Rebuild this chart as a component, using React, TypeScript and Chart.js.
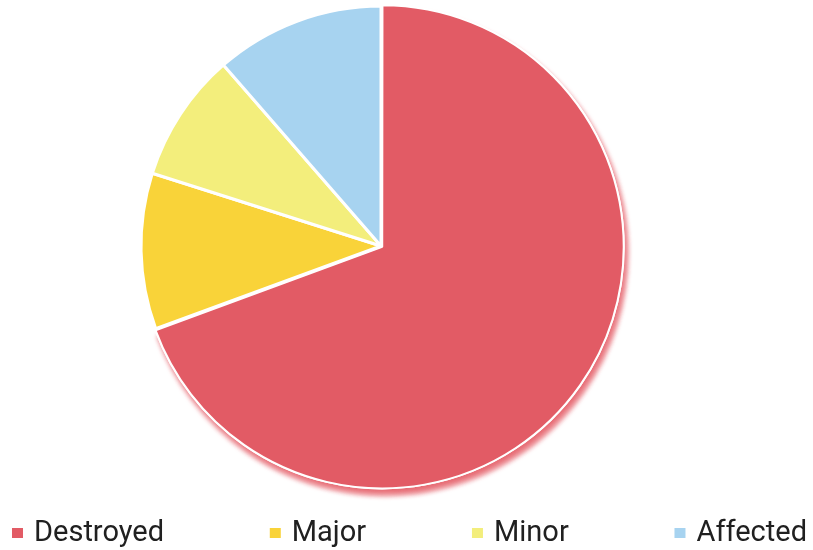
import { useEffect, useRef } from "react";
import { Chart, registerables } from "chart.js";

Chart.register(...registerables);

const categories = ["Destroyed", "Major", "Minor", "Affected"];
const values = [694, 105, 87, 114];
const colors = ["#E25B65", "#F9D339", "#F3EE7C", "#A7D3F0"];

export default function App() {
  const ref = useRef<HTMLCanvasElement>(null);

  useEffect(() => {
    if (!ref.current) return;
    document.body.style.margin = "0";
    document.body.style.overflow = "hidden";

    const shadowPlugin = {
      id: "sliceShadow",
      beforeDatasetsDraw(chart: any) {
        const meta = chart.getDatasetMeta(0);
        const arc = meta.data[0];
        if (!arc) return;
        const ctx = chart.ctx;
        ctx.save();
        ctx.shadowColor = "rgba(228,92,102,0.9)";
        ctx.shadowBlur = 5;
        ctx.shadowOffsetX = 3;
        ctx.shadowOffsetY = 6;
        arc.draw(ctx);
        ctx.restore();
      },
    };

    const legendPlugin = {
      id: "rowLegend",
      afterDraw(chart: any) {
        const ctx = chart.ctx;
        const labels: string[] = chart.data.labels;
        const bg: string[] = chart.data.datasets[0].backgroundColor;
        const fontSize = 29;
        const boxW = 11;
        const boxH = 10;
        const boxGap = 11;
        const left = 12;
        const right = chart.width - 6;
        ctx.save();
        ctx.font = `${fontSize}px Roboto, "Noto Sans", sans-serif`;
        ctx.textBaseline = "middle";
        ctx.textAlign = "left";
        const widths = labels.map((l) => boxW + boxGap + ctx.measureText(l).width);
        const sum = widths.reduce((a, b) => a + b, 0);
        const itemGap = (right - left - sum) / (labels.length - 1);
        let x = left;
        const y = chart.height - 17;
        labels.forEach((l, i) => {
          ctx.fillStyle = bg[i];
          ctx.fillRect(x, y - boxH / 2, boxW, boxH);
          ctx.fillStyle = "#202020";
          ctx.fillText(l, x + boxW + boxGap, y + 1);
          x += widths[i] + itemGap;
        });
        ctx.restore();
      },
    };

    const chart = new Chart(ref.current, {
      type: "pie",
      data: {
        labels: categories,
        datasets: [
          {
            data: values,
            backgroundColor: colors,
            borderColor: "#FFFFFF",
            borderWidth: [2, 3, 3, 3],
            offset: [6, 0, 0, 0],
            clip: false,
          } as any,
        ],
      },
      options: {
        animation: false,
        responsive: true,
        maintainAspectRatio: false,
        radius: 240,
        layout: { padding: { left: 0, right: 51, top: 0, bottom: 58 } },
        plugins: {
          legend: { display: false },
          tooltip: { enabled: false },
        },
      } as any,
      plugins: [shadowPlugin, legendPlugin],
    });

    return () => chart.destroy();
  }, []);

  return (
    <div style={{ width: 813, height: 550, position: "relative" }}>
      <canvas ref={ref} />
    </div>
  );
}
